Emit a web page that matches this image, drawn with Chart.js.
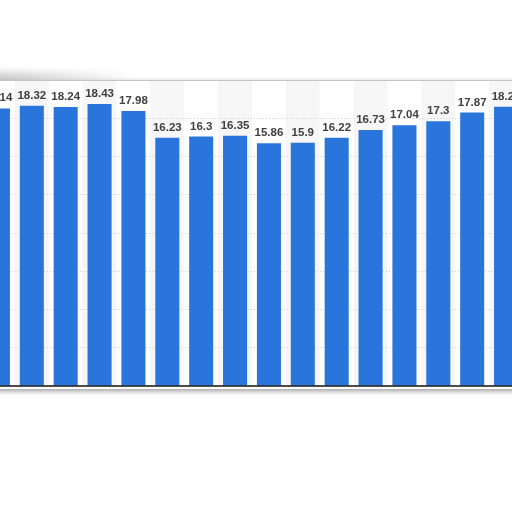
<!DOCTYPE html>
<html>
<head>
<meta charset="utf-8">
<script src="https://cdn.jsdelivr.net/npm/chart.js@4.4.1/dist/chart.umd.min.js"></script>
<style>
  html, body { margin: 0; padding: 0; background: #fff; overflow: hidden; width: 512px; height: 512px; }
  #wrap { position: absolute; left: -19px; top: 0; width: 542px; height: 512px; }
</style>
</head>
<body>
<div id="wrap"><canvas id="mycanvas"></canvas></div>
<script>
// categories (axis labels are cropped out of the picture)
var categories = ['1', '2', '3', '4', '5', '6', '7', '8', '9', '10', '11', '12', '13', '14', '15', '16'];
var values = [18.14, 18.32, 18.24, 18.43, 17.98, 16.23, 16.3, 16.35, 15.86, 15.9, 16.22, 16.73, 17.04, 17.3, 17.87, 18.25];
var yMin = 0;
var yMax = 20;
var yStep = 2.5;

var cardPlugin = {
	id: 'card',
	beforeDraw: function(chart) {
		var ctx = chart.ctx;
		var a = chart.chartArea;
		var x = chart.scales.x;
		ctx.save();
		// darker curl of shadow at the top left
		var g = ctx.createLinearGradient(a.left, 0, a.left + 150, 0);
		g.addColorStop(0, 'rgba(0,0,0,0.22)');
		g.addColorStop(1, 'rgba(0,0,0,0)');
		ctx.filter = 'blur(3px)';
		ctx.fillStyle = g;
		ctx.fillRect(a.left, a.top - 8, 170, 12);
		ctx.filter = 'none';
		// card with soft shadow
		ctx.shadowColor = 'rgba(0,0,0,0.4)';
		ctx.shadowBlur = 5;
		ctx.shadowOffsetY = 2;
		ctx.fillStyle = '#fff';
		ctx.fillRect(a.left - 10, a.top, a.right - a.left + 20, a.bottom - a.top + 3);
		ctx.restore();
		// alternating column stripes
		ctx.save();
		ctx.fillStyle = '#f6f6f6';
		var w = (a.right - a.left) / categories.length;
		for (var i = 1; i < categories.length; i += 2) {
			var cx = x.getPixelForValue(i);
			ctx.fillRect(cx - w / 2, a.top, w, a.bottom - a.top);
		}
		ctx.restore();
	},
	afterDatasetsDraw: function(chart) {
		var ctx = chart.ctx;
		var a = chart.chartArea;
		var y = chart.scales.y;
		ctx.save();
		// top edge
		ctx.strokeStyle = '#c4c4c4';
		ctx.lineWidth = 1;
		ctx.beginPath();
		ctx.moveTo(a.left, a.top + 0.5);
		ctx.lineTo(a.right, a.top + 0.5);
		ctx.stroke();
		// baseline
		var y0 = y.getPixelForValue(0);
		ctx.strokeStyle = '#111';
		ctx.lineWidth = 1.5;
		ctx.beginPath();
		ctx.moveTo(a.left, y0);
		ctx.lineTo(a.right, y0);
		ctx.stroke();
		// value labels
		var meta = chart.getDatasetMeta(0);
		ctx.fillStyle = '#404040';
		ctx.font = 'bold 11.5px "Liberation Sans", Arial, sans-serif';
		ctx.textAlign = 'center';
		ctx.textBaseline = 'alphabetic';
		meta.data.forEach(function(bar, i) {
			ctx.fillText(String(values[i]), bar.x, bar.y - 7);
		});
		ctx.restore();
	}
};

var chartdata = {
	labels: categories,
	datasets: [
		{
			data: values,
			backgroundColor: '#2a75db',
			borderWidth: 0,
			categoryPercentage: 1,
			barPercentage: 0.71
		}
	]
};

var ctx = document.getElementById('mycanvas');
var barGraph = new Chart(ctx, {
	type: 'bar',
	data: chartdata,
	options: {
		responsive: true,
		maintainAspectRatio: false,
		animation: false,
		layout: { padding: { top: 80, bottom: 126, left: 0, right: 0 } },
		plugins: { legend: { display: false }, tooltip: { enabled: false } },
		scales: {
			x: { display: false },
			y: {
				min: yMin,
				max: yMax,
				ticks: { display: false, stepSize: yStep },
				border: { display: false, dash: [1, 2] },
				grid: {
					drawTicks: false,
					color: function(c) {
						if (c.tick.value === yMin || c.tick.value === yMax) return 'rgba(0,0,0,0)';
						return '#cfcfcf';
					}
				},
				afterFit: function(scale) { scale.width = 0; }
			}
		}
	},
	plugins: [cardPlugin]
});
</script>
</body>
</html>
